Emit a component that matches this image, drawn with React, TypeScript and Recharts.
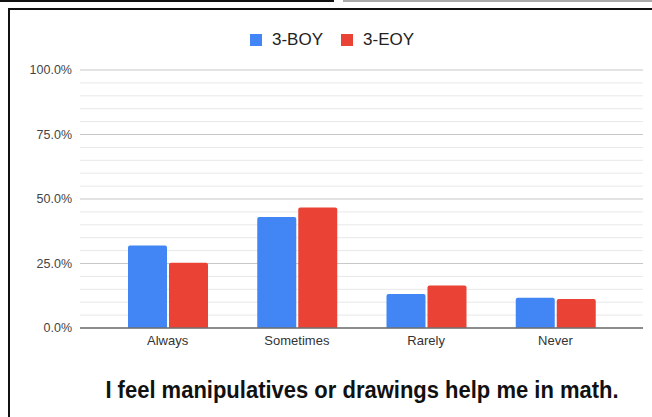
import React from "react";
import { BarChart, Bar, XAxis, YAxis, CartesianGrid } from "recharts";

const categories = ["Always", "Sometimes", "Rarely", "Never"];
const boyValues = [0.32, 0.43, 0.132, 0.117];
const eoyValues = [0.253, 0.467, 0.165, 0.112];
const seriesNames = ["3-BOY", "3-EOY"];
const seriesColors = ["#4285f4", "#ea4335"];
const majorTicks = [0, 0.25, 0.5, 0.75, 1];
const gridTicks = [
  0, 0.05, 0.1, 0.15, 0.2, 0.25, 0.3, 0.35, 0.4, 0.45, 0.5, 0.55, 0.6, 0.65,
  0.7, 0.75, 0.8, 0.85, 0.9, 0.95, 1,
];
const title = "I feel manipulatives or drawings help me in math.";

const data = categories.map((c, i) => ({
  cat: c,
  boy: boyValues[i],
  eoy: eoyValues[i],
}));

const font = "'Liberation Sans', Arial, sans-serif";

const isMajor = (v: number) => majorTicks.some((m) => Math.abs(m - v) < 1e-9);
const fmt = (v: number) => (isMajor(v) ? (v * 100).toFixed(1) + "%" : "");

// grid line: darker on the labelled ticks, faint on the 5% steps
const gridLine = (p: any) => {
  const v = gridTicks[p.index];
  return (
    <line
      key={p.key ?? p.index}
      x1={p.x1}
      y1={p.y1}
      x2={p.x2}
      y2={p.y2}
      stroke={v !== undefined && isMajor(v) ? "#c8c8c8" : "#e8e8e8"}
      strokeWidth={1}
    />
  );
};

export default function App() {
  return (
    <div
      style={{
        position: "absolute",
        left: 0,
        top: 0,
        width: 652,
        height: 417,
        background: "#fff",
        fontFamily: font,
        overflow: "hidden",
      }}
    >
      {/* frame lines from the screenshot */}
      <div style={{ position: "absolute", left: 0, top: 0, width: 334, height: 2, background: "#111" }} />
      <div style={{ position: "absolute", left: 343, top: 0, width: 309, height: 2, background: "#aaa" }} />
      <div style={{ position: "absolute", left: 8, top: 8, width: 644, height: 2, background: "#111" }} />
      <div style={{ position: "absolute", left: 8, top: 8, width: 2, height: 409, background: "#111" }} />

      {/* legend */}
      <div
        style={{
          position: "absolute",
          left: 250,
          top: 30,
          height: 20,
          display: "flex",
          alignItems: "center",
          fontSize: 17,
          color: "#222",
        }}
      >
        {seriesNames.map((n, i) => (
          <div key={n} style={{ display: "flex", alignItems: "center", marginRight: i === 0 ? 18 : 0 }}>
            <span style={{ width: 12, height: 12, background: seriesColors[i], marginRight: 10, display: "inline-block" }} />
            <span>{n}</span>
          </div>
        ))}
      </div>

      <div style={{ position: "absolute", left: 0, top: 0 }}>
        <BarChart
          width={652}
          height={417}
          data={data}
          margin={{ top: 70, right: 9, bottom: 59, left: 0 }}
          barSize={39}
          barGap={2}
        >
          <CartesianGrid vertical={false} horizontal={gridLine} />
          <XAxis
            dataKey="cat"
            height={30}
            tickLine={false}
            axisLine={{ stroke: "#6f6f6f", strokeWidth: 1.5 }}
            padding={{ left: 23, right: 23 }}
            tick={{ fill: "#333", fontSize: 13, fontFamily: font }}
          />
          <YAxis
            width={80}
            domain={[0, 1]}
            ticks={gridTicks}
            interval={0}
            tickFormatter={fmt}
            axisLine={false}
            tickLine={false}
            tick={{ fill: "#444", fontSize: 12.5, fontFamily: font }}
          />
          <Bar dataKey="boy" name={seriesNames[0]} fill={seriesColors[0]} radius={[2, 2, 0, 0]} isAnimationActive={false} />
          <Bar dataKey="eoy" name={seriesNames[1]} fill={seriesColors[1]} radius={[2, 2, 0, 0]} isAnimationActive={false} />
        </BarChart>
      </div>

      <svg style={{ position: "absolute", left: 0, top: 0 }} width={652} height={417}>
        <text
          x={362}
          y={398}
          textAnchor="middle"
          fontFamily={font}
          fontWeight="bold"
          fontSize={22}
          fill="#111"
          transform="translate(0 398) scale(1 1.12) translate(0 -398)"
        >
          {title}
        </text>
      </svg>
    </div>
  );
}
